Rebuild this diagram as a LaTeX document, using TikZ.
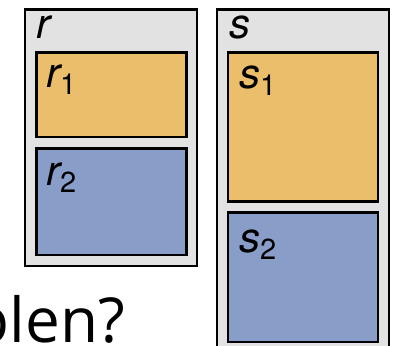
\documentclass[tikz,border=0pt]{standalone}
\usepackage{fontspec}
\newfontfamily\heros{TeX Gyre Heros}
\newfontfamily\opensans{Open Sans}
\definecolor{boxgray}{HTML}{E2E2E2}
\definecolor{boxorange}{HTML}{EBBE6B}
\definecolor{boxblue}{HTML}{889DC8}
\newcommand\mylbl[2]{{\fontsize{42}{42}\selectfont\heros\itshape #1}\raisebox{-7pt}{\fontsize{29}{29}\selectfont\heros #2}}
\begin{document}
\begin{tikzpicture}[x=1pt,y=-1pt,
  outerbox/.style={draw=black, fill=boxgray, line width=2.4pt, anchor=north west, inner sep=0pt},
  partbox/.style={draw=black, line width=2.7pt, anchor=north west, inner sep=0pt},
  lbl/.style={anchor=base west, inner sep=0pt}]
\useasboundingbox (0,0) rectangle (393,345);
\node[outerbox, minimum width=171.5pt, minimum height=256.5pt] (r) at (24,8.5) {};
\node[partbox, fill=boxorange, minimum width=150pt, minimum height=84.5pt] (r1) at (35,51) {};
\node[partbox, fill=boxblue, minimum width=150pt, minimum height=106.5pt] (r2) at (35,147) {};
\node[outerbox, minimum width=172pt, minimum height=346.5pt] (s) at (215.5,8.5) {};
\node[partbox, fill=boxorange, minimum width=150pt, minimum height=149pt] (s1) at (226.5,51) {};
\node[partbox, fill=boxblue, minimum width=150pt, minimum height=129.5pt] (s2) at (226.5,211) {};
\node[lbl] (rl) at (36,39) {\mylbl{r}{}};
\node[lbl] (r1l) at (46,87) {\mylbl{r}{1}};
\node[lbl] (r2l) at (46,185) {\mylbl{r}{2}};
\node[lbl] (sl) at (229,39) {\mylbl{s}{}};
\node[lbl] (s1l) at (239,88) {\mylbl{s}{1}};
\node[lbl] (s2l) at (239,252) {\mylbl{s}{2}};
\node[lbl, font=\fontsize{62}{62}\selectfont\opensans] (q) at (-28.6,342) {plen?};
\end{tikzpicture}
\end{document}
